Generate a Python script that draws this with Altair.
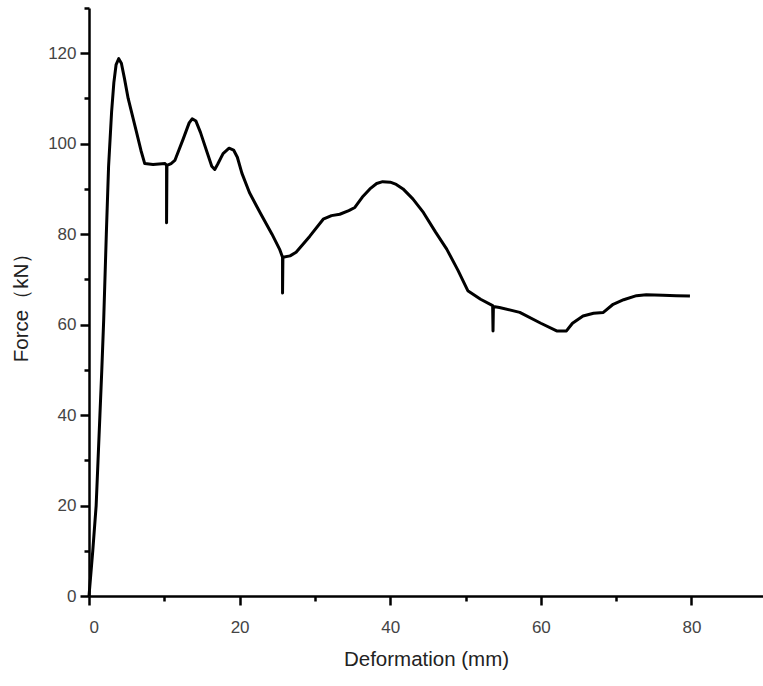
import altair as alt
import pandas as pd

deformation = [0, 0.5, 0.95, 1.2, 1.45, 1.7, 1.95, 2.3, 2.6, 3.0, 3.3, 3.6, 3.95, 4.3, 4.7,
               5.2, 6.3, 6.9, 7.4, 8.5, 10.1,
               10.3, 10.3, 10.35, 10.9, 11.4, 12.5, 13.3, 13.7, 14.2, 14.8, 15.7, 16.3, 16.7,
               17.1, 17.8, 18.6, 19.2, 19.7,
               20.3, 21.3, 22.8, 24.3, 25.3, 25.7, 25.7, 25.75, 26.7, 27.5, 29.3, 31.1, 32.2,
               33.3, 34.5, 35.3, 36.3, 37.3, 38.2, 39.0, 40.0, 40.8, 41.7, 43.0, 44.4, 46.0,
               47.5, 49.0, 50.3, 52.0, 53.6,
               53.65, 53.7, 54.5, 57.2, 60.0, 62.1, 63.4, 64.2, 65.6, 67.0, 68.3, 69.6, 71.0,
               72.7, 74.0, 76.2, 78.0, 79.8]
force = [0, 10, 20, 30, 40, 50, 61, 80, 95, 107, 113.5, 117.5, 118.8, 117.8, 114.5,
         110, 102.6, 98.5, 95.6, 95.4, 95.6,
         95.2, 82.5, 95.2, 95.6, 96.3, 101, 104.6, 105.5, 105.0, 102.5, 98, 95.0, 94.3,
         95.5, 97.8, 99.0, 98.6, 97.0,
         93.5, 89.2, 84.5, 80, 76.7, 74.9, 67.0, 74.9, 75.2, 76.0, 79.5, 83.3, 84.1,
         84.4, 85.2, 85.9, 88.2, 90.0, 91.2, 91.6, 91.5, 91.0, 90.0, 87.8, 84.8, 80.5,
         76.7, 72, 67.5, 65.6, 64.2,
         58.6, 64.0, 63.8, 62.7, 60.3, 58.6, 58.6, 60.3, 61.9, 62.5, 62.7, 64.5, 65.5,
         66.4, 66.6, 66.5, 66.4, 66.3]

x_ticks = list(range(0, 90, 10))
y_ticks = list(range(0, 140, 10))

df = pd.DataFrame({"d": deformation, "f": force, "i": range(len(force))})

chart = alt.Chart(df).mark_line(color="black", strokeWidth=3, strokeJoin="round").encode(
    x=alt.X("d:Q", scale=alt.Scale(domain=[0, 89.5], nice=False, zero=False),
            axis=alt.Axis(values=x_ticks, title="Deformation (mm)",
                          labelExpr="datum.value % 20 == 0 ? datum.label : ''",
                          tickSize={"condition": {"test": "datum.value % 20 === 0", "value": 9}, "value": 5},
                          labelPadding=14, titlePadding=14)),
    y=alt.Y("f:Q", scale=alt.Scale(domain=[0, 130], nice=False),
            axis=alt.Axis(values=y_ticks, title="Force（kN）",
                          labelExpr="datum.value % 20 == 0 ? datum.label : ''",
                          tickSize={"condition": {"test": "datum.value % 20 === 0", "value": 9}, "value": 5},
                          labelPadding=4, titlePadding=16)),
    order="i:Q",
).properties(
    width=674, height=588,
    autosize=alt.AutoSizeParams(type="none"),
    padding={"left": 89, "top": 8, "right": 0, "bottom": 90},
).configure_view(stroke=None).configure_axis(
    grid=False,
    domainColor="black", domainWidth=2.5,
    tickColor="black", tickWidth=2.5,
    labelFont="Liberation Sans", labelFontSize=17, labelColor="#444",
    titleFont="Liberation Sans", titleFontSize=20.5, titleColor="#222", titleFontWeight="normal",
)

chart.save("out.html", embed_options={"renderer": "svg", "actions": False})
